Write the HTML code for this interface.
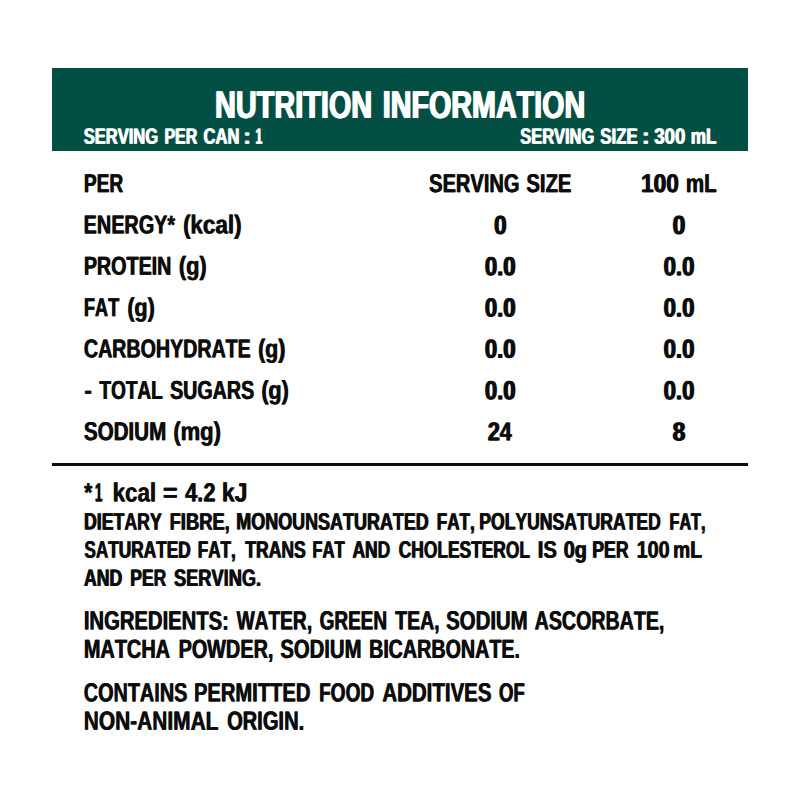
<!DOCTYPE html>
<html><head><meta charset="utf-8"><title>Nutrition Information</title>
<style>
html,body{margin:0;padding:0;background:#fff;}
body{width:800px;height:800px;position:relative;overflow:hidden;font-family:"Liberation Sans",sans-serif;font-weight:bold;text-rendering:geometricPrecision;}
.t{position:absolute;left:0;top:0;white-space:pre;line-height:1;transform-origin:0 0;font-kerning:none;letter-spacing:0;color:#0d0d0d;}
.t::after{content:attr(title);position:absolute;left:var(--o);top:0;}
.w{color:#fff;}
#bar{position:absolute;left:52px;top:68px;width:696px;height:83px;background:#044f44;}
#rule{position:absolute;left:52px;top:463px;width:696px;height:3px;background:#0d0d0d;}
</style></head><body>
<div id="bar"></div>
<div id="rule"></div>

<div class="t w" title="NUTRITION" style="font-size:38.809px;--o:1.938px;transform:matrix(0.7440,0.0006,0,1,214.32,86.89)">NUTRITION</div>
<div class="t w" title="INFORMATION" style="font-size:38.809px;--o:1.950px;transform:matrix(0.7393,0.0006,0,1,382.08,86.87)">INFORMATION</div>
<div class="t w" title="SERVING" style="font-size:22.239px;--o:1.362px;transform:matrix(0.7417,0.0006,0,1,83.27,125.72)">SERVING</div>
<div class="t w" title="PER" style="font-size:22.239px;--o:1.404px;transform:matrix(0.7192,0.0006,0,1,163.93,125.74)">PER</div>
<div class="t w" title="CAN" style="font-size:22.239px;--o:1.360px;transform:matrix(0.7426,0.0006,0,1,203.07,125.73)">CAN</div>
<div class="t w" title=":" style="font-size:22.239px;--o:0.975px;transform:matrix(1.0361,0.0006,0,1,242.78,125.75)">:</div>
<div class="t w" title="1" style="font-size:22.239px;--o:1.853px;transform:matrix(0.5450,0.0006,0,1,254.99,125.75)">1</div>
<div class="t w" title="SERVING" style="font-size:22.239px;--o:1.366px;transform:matrix(0.7391,0.0006,0,1,519.78,125.72)">SERVING</div>
<div class="t w" title="SIZE" style="font-size:22.239px;--o:1.333px;transform:matrix(0.7573,0.0006,0,1,599.81,125.73)">SIZE</div>
<div class="t w" title=":" style="font-size:22.239px;--o:0.932px;transform:matrix(1.0841,0.0006,0,1,641.28,125.75)">:</div>
<div class="t w" title="300" style="font-size:22.239px;--o:1.201px;transform:matrix(0.8405,0.0006,0,1,653.67,125.74)">300</div>
<div class="t w" title="mL" style="font-size:22.239px;--o:1.308px;transform:matrix(0.7719,0.0006,0,1,690.27,125.74)">mL</div>
<div class="t" title="PER" style="font-size:26.163px;--o:1.032px;transform:matrix(0.7328,0.0006,0,1,83.42,170.33)">PER</div>
<div class="t" title="SERVING" style="font-size:26.163px;--o:0.986px;transform:matrix(0.7665,0.0006,0,1,428.82,170.31)">SERVING</div>
<div class="t" title="SIZE" style="font-size:26.163px;--o:0.977px;transform:matrix(0.7742,0.0006,0,1,526.02,170.33)">SIZE</div>
<div class="t" title="100" style="font-size:26.163px;--o:1.330px;transform:matrix(0.8660,0.0006,0,1,640.47,170.34)">100</div>
<div class="t" title="mL" style="font-size:26.163px;--o:1.009px;transform:matrix(0.7846,0.0006,0,1,685.55,170.34)">mL</div>
<div class="t" title="ENERGY*" style="font-size:26.163px;--o:0.998px;transform:matrix(0.7573,0.0006,0,1,83.37,211.56)">ENERGY*</div>
<div class="t" title="(kcal)" style="font-size:26.163px;--o:0.880px;transform:matrix(0.8594,0.0006,0,1,182.63,211.58)">(kcal)</div>
<div class="t" title="PROTEIN" style="font-size:26.163px;--o:1.003px;transform:matrix(0.7541,0.0006,0,1,83.38,252.81)">PROTEIN</div>
<div class="t" title="(g)" style="font-size:26.163px;--o:0.904px;transform:matrix(0.8358,0.0006,0,1,178.41,252.84)">(g)</div>
<div class="t" title="FAT" style="font-size:26.163px;--o:1.084px;transform:matrix(0.6972,0.0006,0,1,83.48,294.13)">FAT</div>
<div class="t" title="(g)" style="font-size:26.163px;--o:0.915px;transform:matrix(0.8261,0.0006,0,1,126.92,294.14)">(g)</div>
<div class="t" title="CARBOHYDRATE" style="font-size:26.163px;--o:1.007px;transform:matrix(0.7510,0.0006,0,1,83.49,335.38)">CARBOHYDRATE</div>
<div class="t" title="(g)" style="font-size:26.163px;--o:0.924px;transform:matrix(0.8180,0.0006,0,1,257.68,335.44)">(g)</div>
<div class="t" title="-" style="font-size:26.163px;--o:0.874px;transform:matrix(0.8647,0.0006,0,1,84.12,377.05)">-</div>
<div class="t" title="TOTAL" style="font-size:26.163px;--o:1.041px;transform:matrix(0.7259,0.0006,0,1,99.04,377.02)">TOTAL</div>
<div class="t" title="SUGARS" style="font-size:26.163px;--o:1.005px;transform:matrix(0.7520,0.0006,0,1,169.63,377.02)">SUGARS</div>
<div class="t" title="(g)" style="font-size:26.163px;--o:0.915px;transform:matrix(0.8261,0.0006,0,1,260.92,377.04)">(g)</div>
<div class="t" title="SODIUM" style="font-size:26.163px;--o:0.959px;transform:matrix(0.7880,0.0006,0,1,83.41,418.27)">SODIUM</div>
<div class="t" title="(mg)" style="font-size:26.163px;--o:0.899px;transform:matrix(0.8406,0.0006,0,1,172.90,418.28)">(mg)</div>
<div class="t" title="0" style="font-size:26.890px;--o:1.597px;transform:matrix(0.8342,0.0006,0,1,493.51,212.14)">0</div>
<div class="t" title="0" style="font-size:26.890px;--o:1.597px;transform:matrix(0.8342,0.0006,0,1,672.11,212.14)">0</div>
<div class="t" title="0.0" style="font-size:26.890px;--o:1.619px;transform:matrix(0.8226,0.0006,0,1,484.13,253.39)">0.0</div>
<div class="t" title="0.0" style="font-size:26.890px;--o:1.614px;transform:matrix(0.8255,0.0006,0,1,662.92,253.39)">0.0</div>
<div class="t" title="0.0" style="font-size:26.890px;--o:1.619px;transform:matrix(0.8226,0.0006,0,1,484.13,294.69)">0.0</div>
<div class="t" title="0.0" style="font-size:26.890px;--o:1.614px;transform:matrix(0.8255,0.0006,0,1,662.92,294.69)">0.0</div>
<div class="t" title="0.0" style="font-size:26.890px;--o:1.619px;transform:matrix(0.8226,0.0006,0,1,484.13,335.99)">0.0</div>
<div class="t" title="0.0" style="font-size:26.890px;--o:1.614px;transform:matrix(0.8255,0.0006,0,1,662.92,335.99)">0.0</div>
<div class="t" title="0.0" style="font-size:26.890px;--o:1.619px;transform:matrix(0.8226,0.0006,0,1,484.13,377.59)">0.0</div>
<div class="t" title="0.0" style="font-size:26.890px;--o:1.614px;transform:matrix(0.8255,0.0006,0,1,662.92,377.59)">0.0</div>
<div class="t" title="24" style="font-size:26.163px;--o:1.402px;transform:matrix(0.8216,0.0006,0,1,487.25,418.49)">24</div>
<div class="t" title="8" style="font-size:26.599px;--o:1.561px;transform:matrix(0.8440,0.0006,0,1,672.09,418.69)">8</div>
<div class="t" title="*" style="font-size:26.454px;--o:0.913px;transform:matrix(0.7969,0.0006,0,1,83.69,479.45)">*</div>
<div class="t" title="1" style="font-size:26.454px;--o:1.429px;transform:matrix(0.5095,0.0006,0,1,94.55,479.44)">1</div>
<div class="t" title="kcal" style="font-size:26.454px;--o:0.858px;transform:matrix(0.8483,0.0006,0,1,112.18,479.43)">kcal</div>
<div class="t" title="=" style="font-size:26.454px;--o:0.762px;transform:matrix(0.9552,0.0006,0,1,162.45,479.44)">=</div>
<div class="t" title="4.2" style="font-size:26.454px;--o:0.878px;transform:matrix(0.8289,0.0006,0,1,184.67,479.44)">4.2</div>
<div class="t" title="kJ" style="font-size:26.454px;--o:0.835px;transform:matrix(0.8720,0.0006,0,1,221.49,479.44)">kJ</div>
<div class="t" title="DIETARY" style="font-size:23.838px;--o:1.279px;transform:matrix(0.7438,0.0006,0,1,83.51,510.62)">DIETARY</div>
<div class="t" title="FIBRE," style="font-size:23.838px;--o:1.237px;transform:matrix(0.7692,0.0006,0,1,169.17,510.63)">FIBRE,</div>
<div class="t" title="MONOUNSATURATED" style="font-size:23.838px;--o:1.262px;transform:matrix(0.7536,0.0006,0,1,235.80,510.57)">MONOUNSATURATED</div>
<div class="t" title="FAT," style="font-size:23.838px;--o:1.328px;transform:matrix(0.7163,0.0006,0,1,436.26,510.63)">FAT,</div>
<div class="t" title="POLYUNSATURATED" style="font-size:23.838px;--o:1.290px;transform:matrix(0.7371,0.0006,0,1,478.82,510.58)">POLYUNSATURATED</div>
<div class="t" title="FAT," style="font-size:23.838px;--o:1.407px;transform:matrix(0.6761,0.0006,0,1,669.12,510.63)">FAT,</div>
<div class="t" title="SATURATED" style="font-size:23.838px;--o:1.316px;transform:matrix(0.7229,0.0006,0,1,83.90,538.80)">SATURATED</div>
<div class="t" title="FAT," style="font-size:23.838px;--o:1.328px;transform:matrix(0.7163,0.0006,0,1,197.26,538.83)">FAT,</div>
<div class="t" title="TRANS" style="font-size:23.838px;--o:1.290px;transform:matrix(0.7373,0.0006,0,1,244.80,538.82)">TRANS</div>
<div class="t" title="FAT" style="font-size:23.838px;--o:1.363px;transform:matrix(0.6979,0.0006,0,1,311.89,538.84)">FAT</div>
<div class="t" title="AND" style="font-size:23.838px;--o:1.299px;transform:matrix(0.7322,0.0006,0,1,351.97,538.83)">AND</div>
<div class="t" title="CHOLESTEROL" style="font-size:23.838px;--o:1.305px;transform:matrix(0.7290,0.0006,0,1,398.29,538.79)">CHOLESTEROL</div>
<div class="t" title="IS" style="font-size:23.838px;--o:1.116px;transform:matrix(0.8526,0.0006,0,1,537.24,538.84)">IS</div>
<div class="t" title="0g" style="font-size:23.838px;--o:1.142px;transform:matrix(0.8326,0.0006,0,1,563.22,538.84)">0g</div>
<div class="t" title="PER" style="font-size:23.838px;--o:1.281px;transform:matrix(0.7426,0.0006,0,1,591.82,538.83)">PER</div>
<div class="t" title="100" style="font-size:23.838px;--o:1.146px;transform:matrix(0.8299,0.0006,0,1,636.15,538.84)">100</div>
<div class="t" title="mL" style="font-size:23.838px;--o:1.181px;transform:matrix(0.8056,0.0006,0,1,672.63,538.84)">mL</div>
<div class="t" title="AND" style="font-size:23.838px;--o:1.285px;transform:matrix(0.7402,0.0006,0,1,83.56,567.03)">AND</div>
<div class="t" title="PER" style="font-size:23.838px;--o:1.296px;transform:matrix(0.7340,0.0006,0,1,129.83,567.03)">PER</div>
<div class="t" title="SERVING." style="font-size:23.838px;--o:1.242px;transform:matrix(0.7658,0.0006,0,1,173.47,567.01)">SERVING.</div>
<div class="t" title="INGREDIENTS:" style="font-size:26.599px;--o:0.961px;transform:matrix(0.7620,0.0006,0,1,83.44,607.54)">INGREDIENTS:</div>
<div class="t" title="WATER," style="font-size:26.599px;--o:1.016px;transform:matrix(0.7204,0.0006,0,1,236.23,607.57)">WATER,</div>
<div class="t" title="GREEN" style="font-size:26.599px;--o:1.025px;transform:matrix(0.7144,0.0006,0,1,319.22,607.57)">GREEN</div>
<div class="t" title="TEA," style="font-size:26.599px;--o:0.996px;transform:matrix(0.7352,0.0006,0,1,394.78,607.58)">TEA,</div>
<div class="t" title="SODIUM" style="font-size:26.599px;--o:0.952px;transform:matrix(0.7686,0.0006,0,1,445.66,607.57)">SODIUM</div>
<div class="t" title="ASCORBATE," style="font-size:26.599px;--o:0.992px;transform:matrix(0.7379,0.0006,0,1,534.31,607.55)">ASCORBATE,</div>
<div class="t" title="MATCHA" style="font-size:26.599px;--o:0.977px;transform:matrix(0.7491,0.0006,0,1,83.47,635.91)">MATCHA</div>
<div class="t" title="POWDER," style="font-size:26.599px;--o:0.980px;transform:matrix(0.7469,0.0006,0,1,178.17,635.91)">POWDER,</div>
<div class="t" title="SODIUM" style="font-size:26.599px;--o:0.959px;transform:matrix(0.7633,0.0006,0,1,279.92,635.92)">SODIUM</div>
<div class="t" title="BICARBONATE." style="font-size:26.599px;--o:0.988px;transform:matrix(0.7407,0.0006,0,1,368.68,635.89)">BICARBONATE.</div>
<div class="t" title="CONTAINS" style="font-size:26.599px;--o:0.981px;transform:matrix(0.7462,0.0006,0,1,83.39,679.41)">CONTAINS</div>
<div class="t" title="PERMITTED" style="font-size:26.599px;--o:0.966px;transform:matrix(0.7578,0.0006,0,1,193.65,679.40)">PERMITTED</div>
<div class="t" title="FOOD" style="font-size:26.599px;--o:1.021px;transform:matrix(0.7170,0.0006,0,1,318.72,679.43)">FOOD</div>
<div class="t" title="ADDITIVES" style="font-size:26.599px;--o:0.951px;transform:matrix(0.7695,0.0006,0,1,381.99,679.41)">ADDITIVES</div>
<div class="t" title="OF" style="font-size:26.599px;--o:1.039px;transform:matrix(0.7045,0.0006,0,1,498.53,679.44)">OF</div>
<div class="t" title="NON-ANIMAL" style="font-size:26.599px;--o:0.931px;transform:matrix(0.7863,0.0006,0,1,83.40,707.80)">NON-ANIMAL</div>
<div class="t" title="ORIGIN." style="font-size:26.599px;--o:0.966px;transform:matrix(0.7574,0.0006,0,1,226.67,707.82)">ORIGIN.</div>
</body></html>
